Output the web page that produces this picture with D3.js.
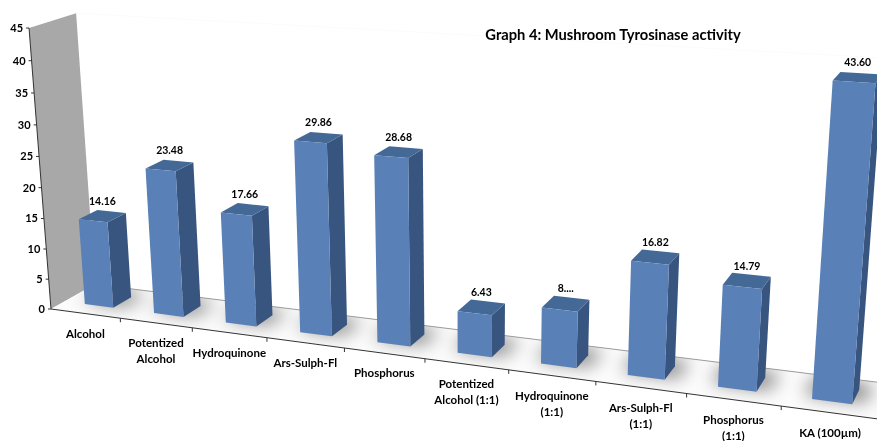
<!DOCTYPE html>
<html><head><meta charset="utf-8">
<script src="https://cdn.jsdelivr.net/npm/d3@7"></script>
<style>html,body{margin:0;background:#fff}svg{display:block}text{font-family:Lato,"Open Sans",sans-serif;font-weight:700;fill:#000}</style>
</head><body><script>
const categories=[["Alcohol"],["Potentized","Alcohol"],["Hydroquinone"],["Ars-Sulph-Fl"],["Phosphorus"],["Potentized","Alcohol (1:1)"],["Hydroquinone","(1:1)"],["Ars-Sulph-Fl","(1:1)"],["Phosphorus","(1:1)"],["KA (100µm)"]];
const values=[14.16,23.48,17.66,29.86,28.68,6.43,8.5,16.82,14.79,43.60];
const valueLabels=["14.16","23.48","17.66","29.86","28.68","6.43","8....","16.82","14.79","43.60"];
const yTicks=[0,5,10,15,20,25,30,35,40,45];
const title="Graph 4: Mushroom Tyrosinase activity";

const W=877,H=441;
const svg=d3.select("body").append("svg").attr("width",W).attr("height",H);
const defs=svg.append("defs");
defs.append("filter").attr("id","soft").attr("x","-5%").attr("y","-5%").attr("width","110%").attr("height","110%").append("feGaussianBlur").attr("stdDeviation",0.45);
defs.append("filter").attr("id","shadow").attr("x","-50%").attr("y","-50%").attr("width","200%").attr("height","200%")
  .append("feGaussianBlur").attr("stdDeviation",9);

const names=categories.map((c,i)=>i);
const uScale=d3.scaleBand().domain(names).range([0,0.997]).paddingInner(0.585).paddingOuter(0.3);
const uAxis=d3.scaleLinear().domain([0,names.length]).range([0,1]);
const vScale=d3.scaleLinear().domain([0,45]).range([0,1]);
const dFront=0.3,dBack=0.72;

// three-point perspective, from the vanishing points of the chart box
const O=[51,309],VU=[-3777,-200],VV=[470,5670],VD=[1217,-345],LU=-0.178,LV=-0.0498,LD=0.0392;
function P(u,v,d){
  const w=1+LU*u+LV*v+LD*d;
  return [(O[0]+LU*u*VU[0]+LV*v*VV[0]+LD*d*VD[0])/w,(O[1]+LU*u*VU[1]+LV*v*VV[1]+LD*d*VD[1])/w];
}
const poly=pts=>"M"+pts.map(p=>p.join(",")).join("L")+"Z";
const g=svg.append("g").attr("filter","url(#soft)");

// wall and floor
g.append("path").attr("d",poly([P(0,0,0),P(0,0,1),P(0,1,1),P(0,1,0)])).attr("fill","#a8a8a8");
g.append("path").attr("d",poly([P(0,0,0),P(1.02,0,0),P(1.02,0,1),P(0,0,1)])).attr("fill","#fcfcfc");
g.append("path").attr("d","M"+P(0,1,1)+"L"+P(1,1,1)).attr("stroke","#fbfbfb").attr("fill","none");

// shadows
defs.append("clipPath").attr("id","floorClip").append("path").attr("d",poly([P(0,0,0),P(1.02,0,0),P(1.02,0,1),P(0,0,1)]));
const clipFloor=g.append("g").attr("clip-path","url(#floorClip)");
const shadows=clipFloor.append("g").attr("filter","url(#shadow)");
names.forEach(i=>{
  const a=uScale(i),b=a+uScale.bandwidth();
  shadows.append("path").attr("d",poly([P(a-0.01,0,dFront+.1),P(b+0.012,0,dFront+.1),P(b+0.012,0,dBack+.18),P(a-0.01,0,dBack+.18)])).attr("fill","#808080");
});
g.append("path").attr("d","M"+P(0,0,1)+"L"+P(1.02,0,1)).attr("stroke","#9a9a9a").attr("fill","none");

// axes
g.append("path").attr("d","M"+P(0,0,0)+"L"+P(1.02,0,0)).attr("stroke","#333").attr("fill","none");
g.append("path").attr("d","M"+P(0,0,0)+"L"+P(0,1,0)).attr("stroke","#333").attr("fill","none");
d3.range(1,names.length).forEach(i=>{
  const p=P(uAxis(i),0,0);
  g.append("line").attr("x1",p[0]).attr("y1",p[1]).attr("x2",p[0]).attr("y2",p[1]+4).attr("stroke","#333");
});
yTicks.forEach(t=>{
  const p=P(0,vScale(t),0);
  g.append("line").attr("x1",p[0]-3).attr("y1",p[1]).attr("x2",p[0]).attr("y2",p[1]).attr("stroke","#333");
  g.append("text").attr("x",p[0]-6).attr("y",p[1]).attr("dy","0.36em").attr("text-anchor","end").attr("font-size",11).text(t);
});

// bars
names.forEach(i=>{
  const a=uScale(i),b=a+uScale.bandwidth(),v=vScale(values[i]),f=dFront,k=dBack;
  g.append("path").attr("d",poly([P(b,0,f),P(b,0,k),P(b,v,k),P(b,v,f)])).attr("fill","#39557f");
  g.append("path").attr("d",poly([P(a,v,f),P(b,v,f),P(b,v,k),P(a,v,k)])).attr("fill","#456997");
  g.append("path").attr("d",poly([P(a,0,f),P(b,0,f),P(b,v,f),P(a,v,f)])).attr("fill","#5a80b8");
  const c=P((a+b)/2,v,(f+k)/2);
  g.append("text").attr("x",c[0]).attr("y",c[1]-15).attr("dy","0.36em").attr("text-anchor","middle").attr("font-size",10.5).text(valueLabels[i]);
  const m=P(uAxis(i+0.5),0,0);
  categories[i].forEach((line,j)=>{
    g.append("text").attr("x",m[0]).attr("y",m[1]+20+16*j).attr("dy","0.36em").attr("text-anchor","middle").attr("font-size",11.5).text(line);
  });
});
g.append("text").attr("x",613).attr("y",35).attr("dy","0.36em").attr("text-anchor","middle").attr("font-size",14.7).text(title);
</script></body></html>
